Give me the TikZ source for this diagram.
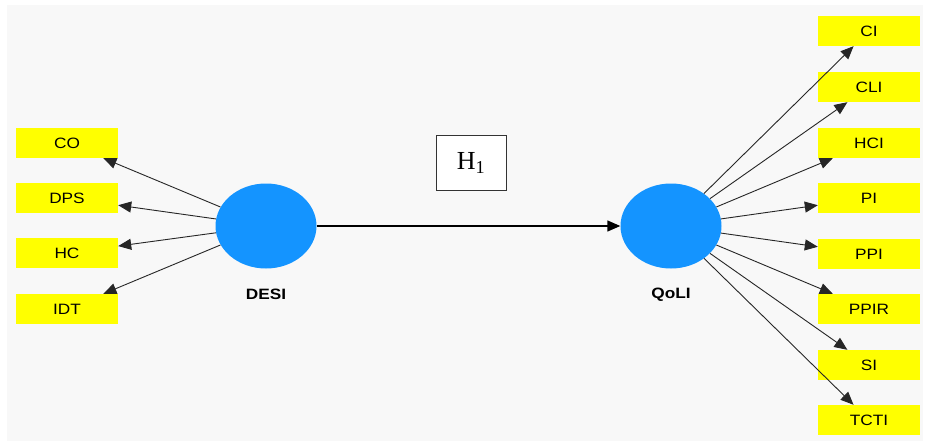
\documentclass[tikz,border=0pt]{standalone}
\usepackage{fontspec}
\setmainfont{Liberation Serif}
\newfontfamily\lblfont[FakeStretch=1.15]{Liberation Sans}
\usetikzlibrary{shapes.geometric,arrows.meta}
\definecolor{latentblue}{RGB}{20,148,255}
\definecolor{indyellow}{RGB}{255,255,0}
\definecolor{canvas}{RGB}{248,248,248}
\tikzset{
  indicator/.style={fill=indyellow, minimum width=102pt, minimum height=30pt,
    inner sep=0pt, font=\lblfont\fontsize{15}{17}\selectfont},
  latent/.style={ellipse, fill=latentblue, minimum width=101pt, minimum height=85pt, inner sep=0pt},
  latentlabel/.style={font=\lblfont\bfseries\fontsize{15}{17}\selectfont},
  loading/.style={draw=black!85, line width=0.9pt, -{Triangle[length=13pt,width=11pt]}},
  path/.style={draw=black, line width=1.4pt, -{Triangle[length=13pt,width=11pt]}}
}
\begin{document}
\begin{tikzpicture}[x=1pt,y=-1pt]
  \useasboundingbox (0,0) rectangle (926,444);
  \fill[white] (0,0) rectangle (926,444);
  \fill[canvas] (7,5) rectangle (923,441);

  % latent variables
  \node[latent] (desi) at (266,226) {};
  \node[latentlabel] (desilbl) at (266,294) {DESI};
  \node[latent] (qoli) at (671,226) {};
  \node[latentlabel] (qolilbl) at (671,295) {QoLI};

  % DESI indicators
  \node[indicator] (co)  at (67,143) {CO};
  \node[indicator] (dps) at (67,198) {DPS};
  \node[indicator] (hc)  at (67,253) {HC};
  \node[indicator] (idt) at (67,309) {IDT};

  % QoLI indicators
  \node[indicator] (ci)   at (869,31)  {CI};
  \node[indicator] (cli)  at (869,87)  {CLI};
  \node[indicator] (hci)  at (869,143) {HCI};
  \node[indicator] (pi)   at (869,198) {PI};
  \node[indicator] (ppi)  at (869,254) {PPI};
  \node[indicator] (ppir) at (869,309) {PPIR};
  \node[indicator] (si)   at (869,365) {SI};
  \node[indicator] (ctti) at (869,420) {TCTI};

  % hypothesis label
  \node[draw=black!80, line width=0.8pt, fill=white, minimum width=70pt, minimum height=55pt,
    inner sep=0pt, font=\fontsize{26}{28}\selectfont] (h1) at (471,163) {H\textsubscript{1}};

  % structural path
  \draw[path] (desi) -- (qoli);

  % outer loadings
  \foreach \t in {co,dps,hc,idt} \draw[loading] (desi) -- (\t);
  \foreach \t in {ci,cli,hci,pi,ppi,ppir,si,ctti} \draw[loading] (qoli) -- (\t);
\end{tikzpicture}
\end{document}
